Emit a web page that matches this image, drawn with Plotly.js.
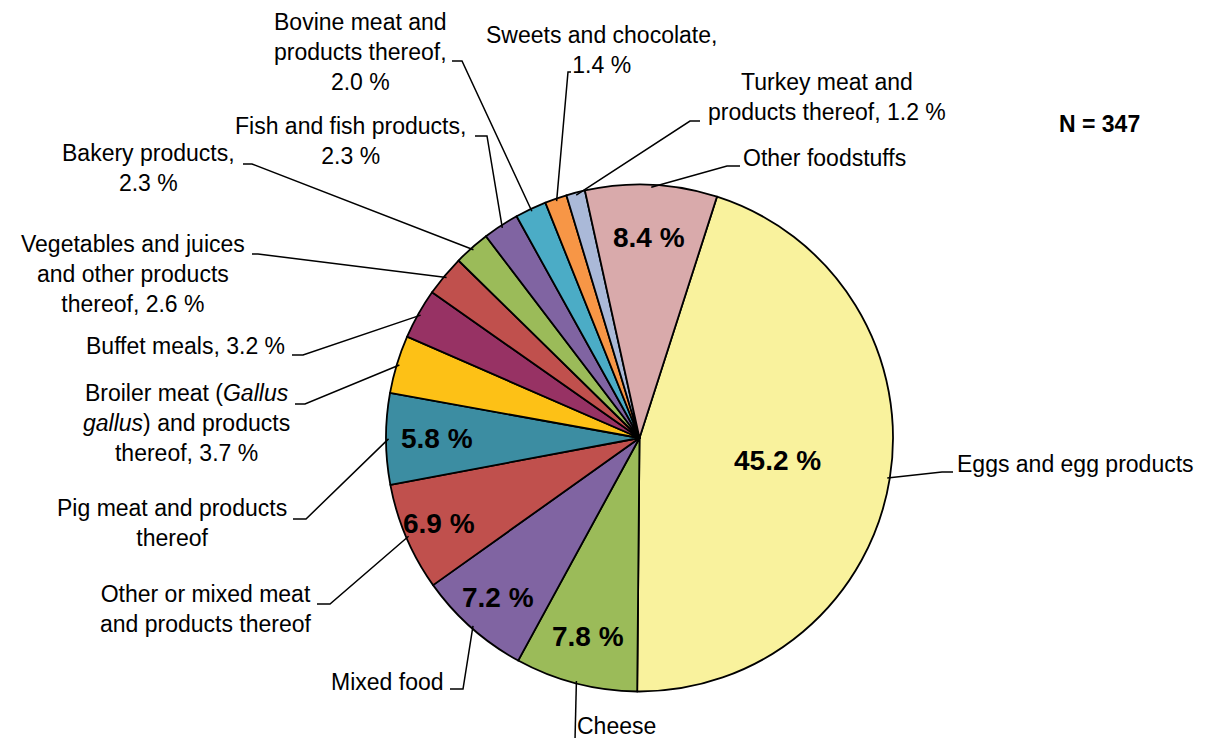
<!DOCTYPE html>
<html>
<head>
<meta charset="utf-8">
<script src="https://cdn.plot.ly/plotly-3.0.1.min.js"></script>
<style>html,body{margin:0;padding:0;background:#fff;}</style>
</head>
<body>
<div id="chart" style="width:1206px;height:738px;"></div>
<script>
// ---- data ----
const categories = [
  "Eggs and egg products", "Cheese", "Mixed food",
  "Other or mixed meat and products thereof", "Pig meat and products thereof",
  "Broiler meat (Gallus gallus) and products thereof", "Buffet meals",
  "Vegetables and juices and other products thereof", "Bakery products",
  "Fish and fish products", "Bovine meat and products thereof",
  "Sweets and chocolate", "Turkey meat and products thereof", "Other foodstuffs"
];
const values = [45.2, 7.8, 7.2, 6.9, 5.8, 3.7, 3.2, 2.6, 2.3, 2.3, 2.0, 1.4, 1.2, 8.4];
const outsideText = [
  "Eggs and egg products", "Cheese", "Mixed food",
  "Other or mixed meat<br>and products thereof",
  "Pig meat and products<br>thereof",
  "Broiler meat (<i>Gallus</i><br><i>gallus</i>) and products<br>thereof, 3.7 %",
  "Buffet meals, 3.2 %",
  "Vegetables and juices<br>and other products<br>thereof, 2.6 %",
  "Bakery products,<br>2.3 %",
  "Fish and fish products,<br>2.3 %",
  "Bovine meat and<br>products thereof,<br>2.0 %",
  "Sweets and chocolate,<br>1.4 %",
  "Turkey meat and<br>products thereof, 1.2 %",
  "Other foodstuffs"
];
const showInside = [true, true, true, true, true, false, false, false, false, false, false, false, false, true];
const totalN = 347;

// ---- style / layout ----
const colors = ["#F9F29D", "#9BBB59", "#8064A2", "#C0504D", "#3C8DA2", "#FDC116", "#973264",
  "#C0504D", "#9BBB59", "#8064A2", "#4BACC6", "#F79646", "#AAB9D8", "#D9AAAB"];
const W = 1206, H = 738;
const CX = 639.5, CY = 438, R = 253.5;
const ROT = 17.8;
const insideFrac = [0.55, 0.81, 0.84, 0.86, 0.80, 0, 0, 0, 0, 0, 0, 0, 0, 0.79];
// label placement (pixels): x, y (block centre), xanchor, elbow start, elbow end
const labelPos = [
  {x: 955, y: 464, xa: "left",   e: [[953, 472], [942, 472]]},
  {x: 575, y: 726, xa: "left",   e: [[575, 740], [575, 740]]},
  {x: 446, y: 682, xa: "right",  e: [[450, 689], [463, 689]]},
  {x: 314, y: 609, xa: "right",  e: [[317, 604], [330, 604]]},
  {x: 289, y: 523, xa: "right",  e: [[293, 519], [306, 519]]},
  {x: 292, y: 423, xa: "right",  e: [[295, 404], [305, 404]]},
  {x: 287, y: 346, xa: "right",  e: [[292, 355], [303, 355]]},
  {x: 247, y: 274, xa: "right",  e: [[252, 254], [258, 254]]},
  {x: 237, y: 168, xa: "right",  e: [[243, 164], [252, 164]]},
  {x: 468, y: 141, xa: "right",  e: [[475, 136], [487, 136]]},
  {x: 449, y: 52,  xa: "right",  e: [[452, 61],  [462, 61]]},
  {x: 601, y: 50,  xa: "center", e: [[571, 72],  [568, 72]]},
  {x: 827, y: 97,  xa: "center", e: [[700, 121], [690, 121]]},
  {x: 741, y: 158, xa: "left",   e: [[740, 166], [727, 166]]}
];
const FONT = "Liberation Sans, Arial, sans-serif";

const px = x => x / W;
const py = y => 1 - y / H;

// mid angles from data
const total = values.reduce((a, b) => a + b, 0);
let acc = 0;
const mids = values.map(v => { const m = ROT + (acc + v / 2) / total * 360; acc += v; return m * Math.PI / 180; });

const annotations = [];
const shapes = [];
values.forEach((v, i) => {
  const a = mids[i];
  if (showInside[i]) {
    const r = R * insideFrac[i];
    annotations.push({
      xref: "paper", yref: "paper",
      x: px(CX + r * Math.sin(a)), y: py(CY - r * Math.cos(a)),
      text: "<b>" + v.toFixed(1) + " %</b>", showarrow: false,
      xanchor: "center", yanchor: "middle",
      font: {family: FONT, size: 28, color: "#000"}
    });
  }
  const lp = labelPos[i];
  annotations.push({
    xref: "paper", yref: "paper", x: px(lp.x), y: py(lp.y),
    text: outsideText[i], showarrow: false, xanchor: lp.xa, yanchor: "middle",
    align: "center", font: {family: FONT, size: 23, color: "#000"}
  });
  const ex = CX + R * 0.99 * Math.sin(a), ey = CY - R * 0.99 * Math.cos(a);
  const p = lp.e;
  shapes.push({
    type: "path", xref: "paper", yref: "paper",
    path: `M ${px(p[0][0])} ${py(p[0][1])} L ${px(p[1][0])} ${py(p[1][1])} L ${px(ex)} ${py(ey)}`,
    line: {color: "#000", width: 1.5}
  });
});
annotations.push({
  xref: "paper", yref: "paper", x: px(1099), y: py(124), text: "<b>N = " + totalN + "</b>",
  showarrow: false, xanchor: "center", yanchor: "middle",
  font: {family: FONT, size: 23, color: "#000"}
});

const trace = {
  type: "pie", labels: categories, values: values,
  sort: false, direction: "clockwise", rotation: ROT,
  textinfo: "none", hoverinfo: "label+percent",
  marker: {colors: colors, line: {color: "#000", width: 1.8}},
  domain: {x: [px(CX - R), px(CX + R)], y: [py(CY + R), py(CY - R)]},
  showlegend: false
};

Plotly.newPlot("chart", [trace], {
  width: W, height: H, margin: {l: 0, r: 0, t: 0, b: 0},
  paper_bgcolor: "#fff", plot_bgcolor: "#fff",
  showlegend: false, annotations: annotations, shapes: shapes
}, {displayModeBar: false, staticPlot: true});
</script>
</body>
</html>
